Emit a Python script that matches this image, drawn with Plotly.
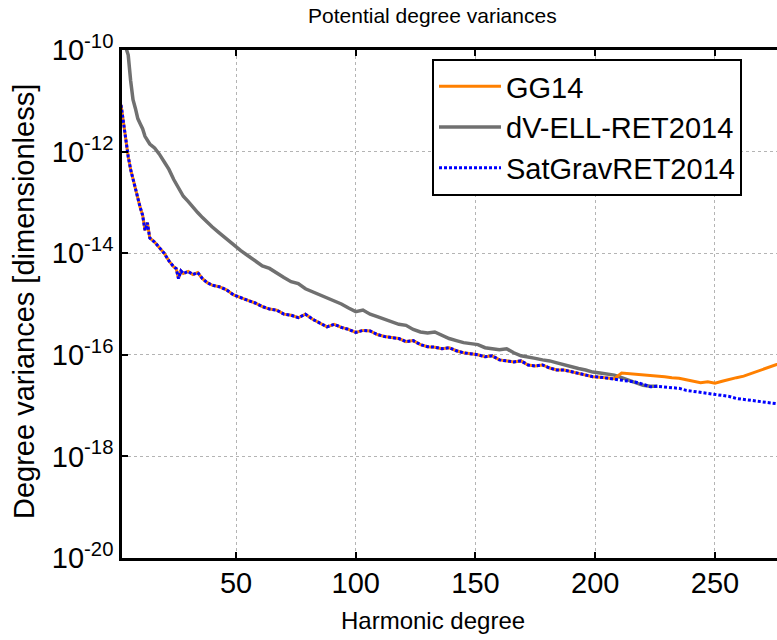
import numpy as np
import plotly.graph_objects as go

deg_common = [2, 3, 4, 5, 6, 7, 8, 9, 10, 11, 12, 13, 14, 16, 18, 20, 22, 24, 25, 26,
              27, 28, 30, 32, 34, 36, 38, 40, 43, 46, 49, 52, 55, 58, 61, 64, 67, 70,
              73, 76, 79, 82, 85, 88, 91, 94, 97, 100, 103, 106, 109, 112, 115, 118,
              121, 124, 127, 130, 133, 136, 139, 142, 145, 148, 151, 154, 157, 160,
              163, 166, 169, 172, 175, 178, 181, 184, 187, 190, 193, 196, 199, 202,
              205, 208]
log_common = [-11.08, -11.45, -11.75, -12.10, -12.35, -12.55, -12.70, -12.90, -13.10,
              -13.25, -13.55, -13.40, -13.70, -13.78, -13.90, -14.00, -14.15, -14.27,
              -14.30, -14.50, -14.35, -14.40, -14.36, -14.42, -14.38, -14.50, -14.58,
              -14.63, -14.66, -14.72, -14.82, -14.88, -14.93, -14.98, -15.05, -15.10,
              -15.12, -15.20, -15.22, -15.27, -15.20, -15.30, -15.38, -15.45, -15.40,
              -15.46, -15.50, -15.56, -15.52, -15.53, -15.60, -15.64, -15.66, -15.68,
              -15.74, -15.72, -15.80, -15.84, -15.85, -15.88, -15.86, -15.92, -15.96,
              -15.98, -16.00, -16.04, -16.02, -16.10, -16.12, -16.14, -16.12, -16.20,
              -16.22, -16.20, -16.26, -16.30, -16.30, -16.33, -16.36, -16.40, -16.43,
              -16.44, -16.46, -16.47]

deg_tail = [211, 214, 217, 220, 223, 226, 229, 232, 235, 238, 241, 244, 247, 250, 253,
            256, 259, 262, 265, 268, 271, 274, 277, 280]
log_gg14_tail = [-16.36, -16.37, -16.38, -16.40, -16.40, -16.42, -16.43, -16.45, -16.46,
                 -16.49, -16.52, -16.55, -16.53, -16.56, -16.52, -16.48, -16.45, -16.42,
                 -16.37, -16.32, -16.28, -16.22, -16.17, -16.12]
log_satgrav_tail = [-16.50, -16.52, -16.54, -16.58, -16.63, -16.62, -16.63, -16.64,
                    -16.66, -16.70, -16.72, -16.73, -16.76, -16.77, -16.80, -16.82,
                    -16.86, -16.88, -16.90, -16.92, -16.93, -16.95, -16.97, -16.98]

deg_dv = [2, 3, 4, 5, 6, 7, 8, 9, 10, 11, 12, 14, 16, 18, 20, 22, 24, 26, 28, 30, 32,
          34, 36, 38, 40, 43, 46, 49, 52, 55, 58, 61, 64, 67, 70, 73, 76, 79, 82, 85,
          88, 91, 94, 97, 100, 103, 106, 109, 112, 115, 118, 121, 124, 127, 130, 133,
          136, 139, 142, 145, 148, 151, 154, 157, 160, 163, 166, 169, 172, 175, 178,
          181, 184, 187, 190, 193, 196, 199, 202, 205, 208, 211, 214, 217, 220, 223, 226]
log_dv = [-9.70, -9.90, -9.95, -10.10, -10.60, -10.98, -11.15, -11.35, -11.45, -11.55,
          -11.70, -11.85, -11.93, -12.05, -12.20, -12.35, -12.55, -12.70, -12.88, -12.98,
          -13.10, -13.20, -13.30, -13.40, -13.48, -13.60, -13.72, -13.85, -13.95, -14.05,
          -14.15, -14.25, -14.30, -14.40, -14.48, -14.56, -14.60, -14.70, -14.76, -14.82,
          -14.88, -14.95, -15.00, -15.08, -15.15, -15.12, -15.20, -15.25, -15.30, -15.35,
          -15.40, -15.42, -15.50, -15.55, -15.57, -15.55, -15.62, -15.68, -15.72, -15.76,
          -15.78, -15.80, -15.86, -15.88, -15.90, -15.88, -15.96, -16.02, -16.04, -16.07,
          -16.10, -16.12, -16.16, -16.20, -16.24, -16.27, -16.30, -16.34, -16.36, -16.38,
          -16.40, -16.45, -16.50, -16.55, -16.60, -16.62, -16.62]

ytick_exp = [-20, -18, -16, -14, -12, -10]
xtick_vals = [50, 100, 150, 200, 250]

x_gg = deg_common + deg_tail
y_gg = np.power(10.0, log_common + log_gg14_tail)
x_sg = deg_common + deg_tail
y_sg = np.power(10.0, log_common + log_satgrav_tail)
x_dv = deg_dv
y_dv = np.power(10.0, log_dv)

FONT = "Liberation Sans, Arial, sans-serif"

fig = go.Figure()
fig.add_trace(go.Scatter(x=x_dv, y=y_dv, mode="lines", name="dV-ELL-RET2014",
                         line=dict(color="#707070", width=3.5), legendrank=2))
fig.add_trace(go.Scatter(x=x_gg, y=y_gg, mode="lines", name="GG14",
                         line=dict(color="#FF8000", width=3), legendrank=1))
fig.add_trace(go.Scatter(x=x_sg, y=y_sg, mode="lines", name="SatGravRET2014",
                         line=dict(color="#0000FF", width=3, dash="3px,2px"), legendrank=3))

L, R, T, B = 122, 777, 50, 558
W, H = 777, 640
pw, ph = R - L, B - T

def px(xp):
    return (xp - L) / pw

def py(yp):
    return (B - yp) / ph

fig.update_layout(
    width=W, height=H,
    margin=dict(l=L, r=W - R, t=T, b=H - B, pad=0, autoexpand=False),
    paper_bgcolor="white", plot_bgcolor="white",
    font=dict(family=FONT, color="black"),
    showlegend=True,
    legend=dict(x=px(432), y=py(59), xanchor="left", yanchor="top",
                bgcolor="white", bordercolor="black", borderwidth=2,
                font=dict(size=29, family=FONT), traceorder="normal",
                itemwidth=62, tracegroupgap=0),
    xaxis=dict(range=[2.4, 275.9], tickvals=xtick_vals,
               ticktext=[str(v) for v in xtick_vals],
               ticks="inside", ticklen=6, tickwidth=2, tickcolor="black",
               showline=True, linecolor="black", linewidth=2.5, mirror="ticks",
               showgrid=True, gridcolor="#b4b4b4", griddash="dot", gridwidth=1,
               zeroline=False, tickfont=dict(size=29, family=FONT),
               ticklabelstandoff=-3),
    yaxis=dict(type="log", range=[-20, -10],
               tickvals=[10.0 ** e for e in ytick_exp],
               ticktext=["10<sup>%d</sup>" % e for e in ytick_exp],
               ticks="inside", ticklen=6, tickwidth=2, tickcolor="black",
               showline=True, linecolor="black", linewidth=2.5, mirror=False,
               showgrid=True, gridcolor="#b4b4b4", griddash="dot", gridwidth=1,
               zeroline=False, tickfont=dict(size=29, family=FONT),
               ticklabelstandoff=0),
    annotations=[
        dict(text="Potential degree variances", x=px(432), y=py(16), xref="paper",
             yref="paper", showarrow=False, xanchor="center", yanchor="middle",
             font=dict(size=21, family=FONT)),
        dict(text="Harmonic degree", x=px(433), y=py(620), xref="paper",
             yref="paper", showarrow=False, xanchor="center", yanchor="middle",
             font=dict(size=24, family=FONT)),
        dict(text="Degree variances [dimensionless]", x=px(24), y=py(302),
             xref="paper", yref="paper", showarrow=False, textangle=-90,
             xanchor="center", yanchor="middle", font=dict(size=29, family=FONT)),
    ],
)

fig.write_html("out.html",
               config={"displayModeBar": False},
               post_script="document.body.style.margin='0px';"
                           "document.body.style.overflow='hidden';")
